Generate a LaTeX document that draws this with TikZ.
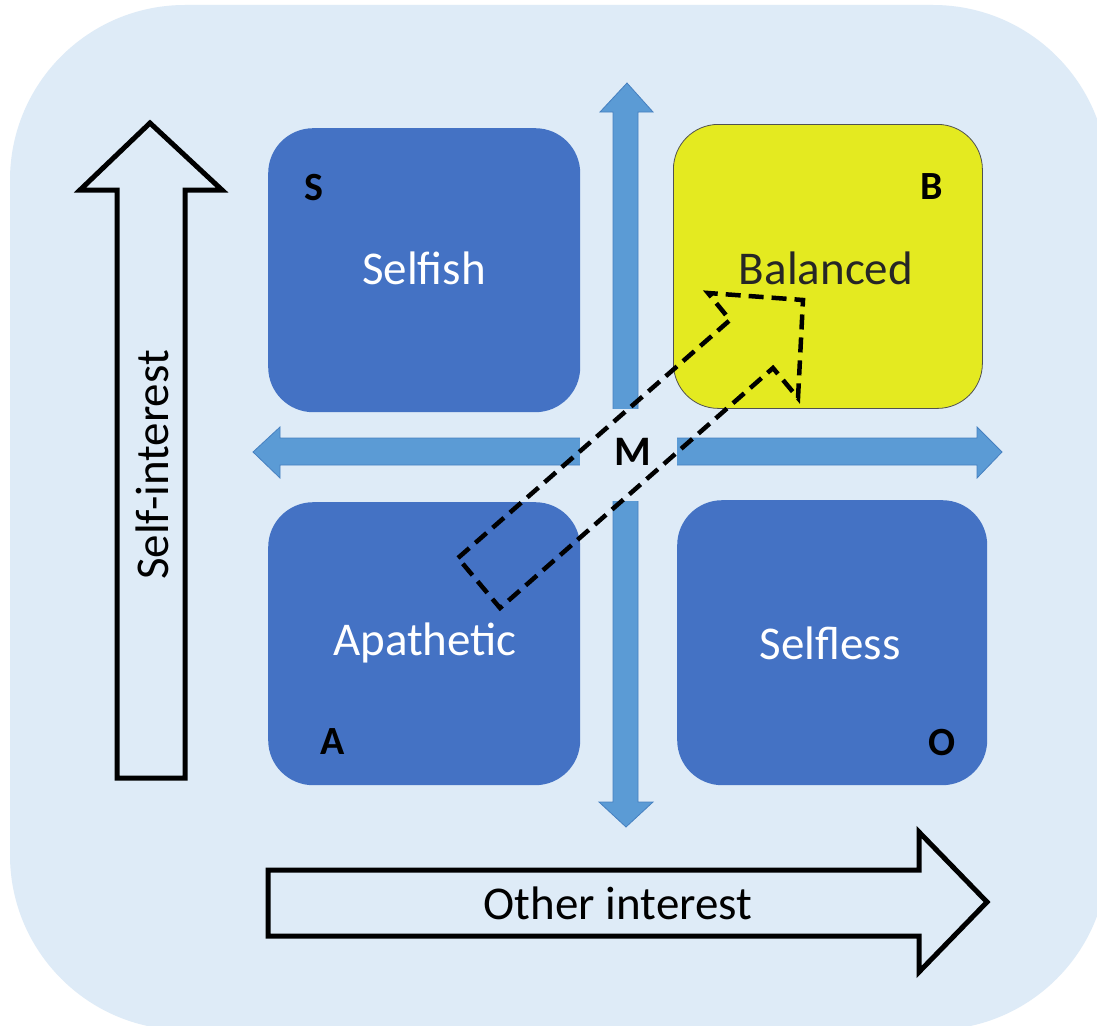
\documentclass[tikz,border=0pt]{standalone}
\usepackage{fontspec}
\setmainfont{Carlito}
\definecolor{bg}{RGB}{222,235,247}
\definecolor{boxblue}{RGB}{68,114,196}
\definecolor{arrblue}{RGB}{91,155,213}
\definecolor{arredge}{RGB}{70,128,192}
\definecolor{ybox}{RGB}{228,234,32}
\definecolor{darktxt}{RGB}{38,38,38}
\begin{document}
\begin{tikzpicture}[x=1pt,y=-1pt,
  quad/.style={rectangle, rounded corners=45pt, fill=boxblue, draw=none, anchor=north west},
  ybalanced/.style={rectangle, rounded corners=45pt, fill=ybox, draw=darktxt!80, line width=0.8pt, anchor=north west},
  bigtxt/.style={font=\fontsize{47}{52}\selectfont, inner sep=0pt},
  letter/.style={font=\fontsize{40}{44}\selectfont\bfseries, text=black, inner sep=0pt},
  bluearrow/.style={fill=arrblue, draw=arredge, line width=0.8pt, line join=miter},
  outlinearrow/.style={draw=black, line width=5pt, line join=miter, fill=bg},
  dasharrow/.style={draw=black, line width=4.5pt, dash pattern=on 15pt off 8pt, line join=miter}]
\useasboundingbox (0,0) rectangle (1097,1025);
\begin{scope}
  \clip (0,0) rectangle (1097,1025);
  \fill[white] (0,0) rectangle (1097,1025);
  \fill[bg, rounded corners=175pt] (10,5) rectangle (1108,1030);
\end{scope}

% light blue double arrows
\draw[bluearrow] (627,83) -- (653,112) -- (638,112) -- (638,802) -- (653,802) -- (626,827)
  -- (599,802) -- (613,802) -- (613,112) -- (600,112) -- cycle;
\draw[bluearrow] (253,452) -- (280,427) -- (280,438) -- (977,438) -- (977,427) -- (1002,452)
  -- (977,478) -- (977,465) -- (280,465) -- (280,478) -- cycle;

% quadrant boxes
\node[quad, minimum width=312pt, minimum height=284pt] (selfish) at (268,128) {};
\node[ybalanced, minimum width=309pt, minimum height=284pt] (balanced) at (673,124) {};
\node[quad, minimum width=312pt, minimum height=283pt] (apathetic) at (268,502) {};
\node[quad, minimum width=310pt, minimum height=285pt] (selfless) at (677,500) {};

\node[bigtxt, text=white] (tselfish) at (424,268) {Selfish};
\node[bigtxt, text=darktxt] (tbalanced) at (826,268) {Balanced};
\node[bigtxt, text=white] (tapathetic) at (425,643) {Apathetic};
\node[bigtxt, text=white] (tselfless) at (830,643) {Selfless};

\node[letter] (ls) at (314,188) {S};
\node[letter] (lb) at (932,187) {B};
\node[letter] (la) at (333,742) {A};
\node[letter] (lo) at (942,743) {O};

% centre M box
\fill[bg] (580,409) rectangle (677,501);
\node[letter, font=\fontsize{42}{46}\selectfont\bfseries] (lm) at (633,452) {M};

% outline arrows
\draw[outlinearrow] (150,123) -- (222,190) -- (185,190) -- (185,778) -- (117,778) -- (117,190) -- (80,190) -- cycle;
\node[bigtxt, rotate=90, text=black] (tself) at (152,465) {Self-interest};
\draw[outlinearrow] (268,870) -- (919,870) -- (919,832) -- (987,902) -- (919,972) -- (919,936) -- (268,936) -- cycle;
\node[bigtxt, text=black] (tother) at (618,903) {Other interest};

% dashed block arrow
\draw[dasharrow] (458,558) -- (730,320) -- (708,293) -- (803,300) -- (798,398) -- (773,368) -- (500,608) -- cycle;
\end{tikzpicture}
\end{document}
